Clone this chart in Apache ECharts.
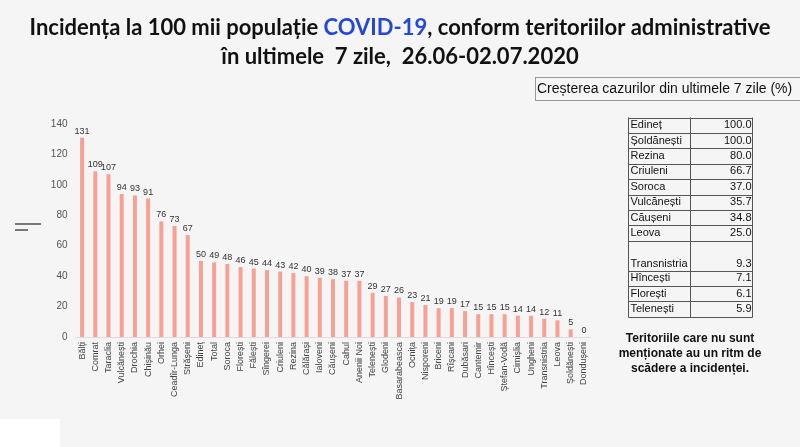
<!DOCTYPE html>
<html>
<head>
<meta charset="utf-8">
<script src="https://cdn.jsdelivr.net/npm/echarts@6/dist/echarts.min.js"></script>
<style>
html,body{margin:0;padding:0;background:#f5f5f5;}
#c{width:800px;height:447px;}
</style>
</head>
<body>
<div id="c"></div>
<script>
var categories = ['Bălți','Comrat','Taraclia','Vulcănești','Drochia','Chișinău','Orhei','Ceadîr-Lunga','Strășeni','Edineț','Total','Soroca','Florești','Fălești','Sîngerei','Criuleni','Rezina','Călărași','Ialoveni','Căușeni','Cahul','Anenii Noi','Telenești','Glodeni','Basarabeasca','Ocnița','Nisporeni','Briceni','Rîșcani','Dubăsari','Cantemir','Hîncești','Ștefan-Vodă','Cimișlia','Ungheni','Transnistria','Leova','Șoldănești','Dondușeni'];
var incidence = [131,109,107,94,93,91,76,73,67,50,49,48,46,45,44,43,42,40,39,38,37,37,29,27,26,23,21,19,19,17,15,15,15,14,14,12,11,5,0];
var yTicks = [0,20,40,60,80,100,120,140];

var tableHeader = 'Creșterea cazurilor din ultimele 7 zile (%)';
var growthNamesTop = ['Edineț','Șoldănești','Rezina','Criuleni','Soroca','Vulcănești','Căușeni','Leova'];
var growthValuesTop = ['100.0','100.0','80.0','66.7','37.0','35.7','34.8','25.0'];
var growthNamesBottom = ['Transnistria','Hîncești','Florești','Telenești'];
var growthValuesBottom = ['9.3','7.1','6.1','5.9'];
var noteLines = ['Teritoriile care nu sunt','menționate au un ritm de','scădere a incidenței.'];

var chart = echarts.init(document.getElementById('c'));

var graphics = [];
graphics.push({type:'rect', shape:{x:0,y:419,width:60,height:28}, style:{fill:'#ffffff'}, silent:true});
graphics.push({type:'line', shape:{x1:15,y1:224,x2:41,y2:224}, style:{stroke:'#333',lineWidth:1.3}});
graphics.push({type:'line', shape:{x1:15,y1:230,x2:28,y2:230}, style:{stroke:'#333',lineWidth:1.3}});
graphics.push({type:'line', shape:{x1:535,y1:77.5,x2:800,y2:77.5}, style:{stroke:'#999',lineWidth:1}});
graphics.push({type:'line', shape:{x1:535,y1:100.5,x2:800,y2:100.5}, style:{stroke:'#999',lineWidth:1}});
graphics.push({type:'line', shape:{x1:535.5,y1:77,x2:535.5,y2:101}, style:{stroke:'#999',lineWidth:1}});
graphics.push({type:'text', x:537, y:89.5, style:{text:tableHeader, font:'14px Arial, "Liberation Sans"', fill:'#111', textVerticalAlign:'middle'}});

var tx0 = 628.5, tx1 = 690.5, tx2 = 752.5, ty = 117.5, rh = 15.4;
var rowsY = [];
var y = ty;
var lines = [y];
for (var i=0;i<growthNamesTop.length;i++){ rowsY.push(y + rh/2); y += rh; lines.push(y); }
y += 2*rh - 1; lines.push(y);
var bottomRowsY = [y - rh/2 + 1];
for (var j=1;j<growthNamesBottom.length;j++){ bottomRowsY.push(y + rh/2); y += rh; lines.push(y); }
var tEnd = y;
lines.forEach(function(ly){
  graphics.push({type:'line', shape:{x1:tx0,y1:Math.round(ly)+0.5,x2:tx2,y2:Math.round(ly)+0.5}, style:{stroke:'#555',lineWidth:1}});
});
[tx0,tx1,tx2].forEach(function(lx){
  graphics.push({type:'line', shape:{x1:lx,y1:ty,x2:lx,y2:Math.round(tEnd)+0.5}, style:{stroke:'#555',lineWidth:1}});
});
function addRow(name,val,cy){
  graphics.push({type:'text', x:tx0+2, y:cy, style:{text:name, font:'11px Arial, "Liberation Sans"', fill:'#111', textVerticalAlign:'middle'}});
  graphics.push({type:'text', x:tx2-1, y:cy, style:{text:val, font:'11px Arial, "Liberation Sans"', fill:'#111', textAlign:'right', textVerticalAlign:'middle'}});
}
for (var k=0;k<growthNamesTop.length;k++) addRow(growthNamesTop[k], growthValuesTop[k], rowsY[k]);
for (var m=0;m<growthNamesBottom.length;m++) addRow(growthNamesBottom[m], growthValuesBottom[m], bottomRowsY[m]);
noteLines.forEach(function(t,i){
  graphics.push({type:'text', x:690, y:339 + i*15, style:{text:t, font:'bold 12px Arial, "Liberation Sans"', fill:'#111', textAlign:'center', textVerticalAlign:'middle'}});
});

var option = {
  backgroundColor:'#f5f5f5',
  animation:false,
  title:{
    left:'center', top:8,
    text:'{a|Incidența la 100 mii populație }{b|COVID-19}{a|, conform teritoriilor administrative}\n{a|în ultimele  7 zile,  26.06-02.07.2020}',
    textStyle:{
      rich:{
        a:{fontFamily:'Lato, "Open Sans", Arial', fontWeight:'bold', fontSize:22, color:'#111', lineHeight:29},
        b:{fontFamily:'Lato, "Open Sans", Arial', fontWeight:'bold', fontSize:22, color:'#2447d8', lineHeight:29}
      }
    }
  },
  grid:{left:75.5, right:209.5, top:124, bottom:110, containLabel:false},
  xAxis:{
    type:'category', data:categories,
    axisLine:{lineStyle:{color:'#ddd'}},
    axisTick:{show:false},
    axisLabel:{interval:0, rotate:90, fontSize:9, color:'#444', fontFamily:'Arial', margin:5}
  },
  yAxis:{
    type:'value', min:yTicks[0], max:yTicks[yTicks.length-1], interval:20,
    axisLine:{show:false}, axisTick:{show:false}, splitLine:{show:false},
    axisLabel:{fontSize:10, color:'#555', fontFamily:'Arial', margin:8}
  },
  series:[{
    type:'bar', data:incidence, barWidth:4,
    itemStyle:{color:'#f7a194'},
    label:{show:true, position:'top', fontSize:9, color:'#333', fontFamily:'Arial', distance:2}
  }],
  graphic:graphics
};
chart.setOption(option);
</script>
</body>
</html>
